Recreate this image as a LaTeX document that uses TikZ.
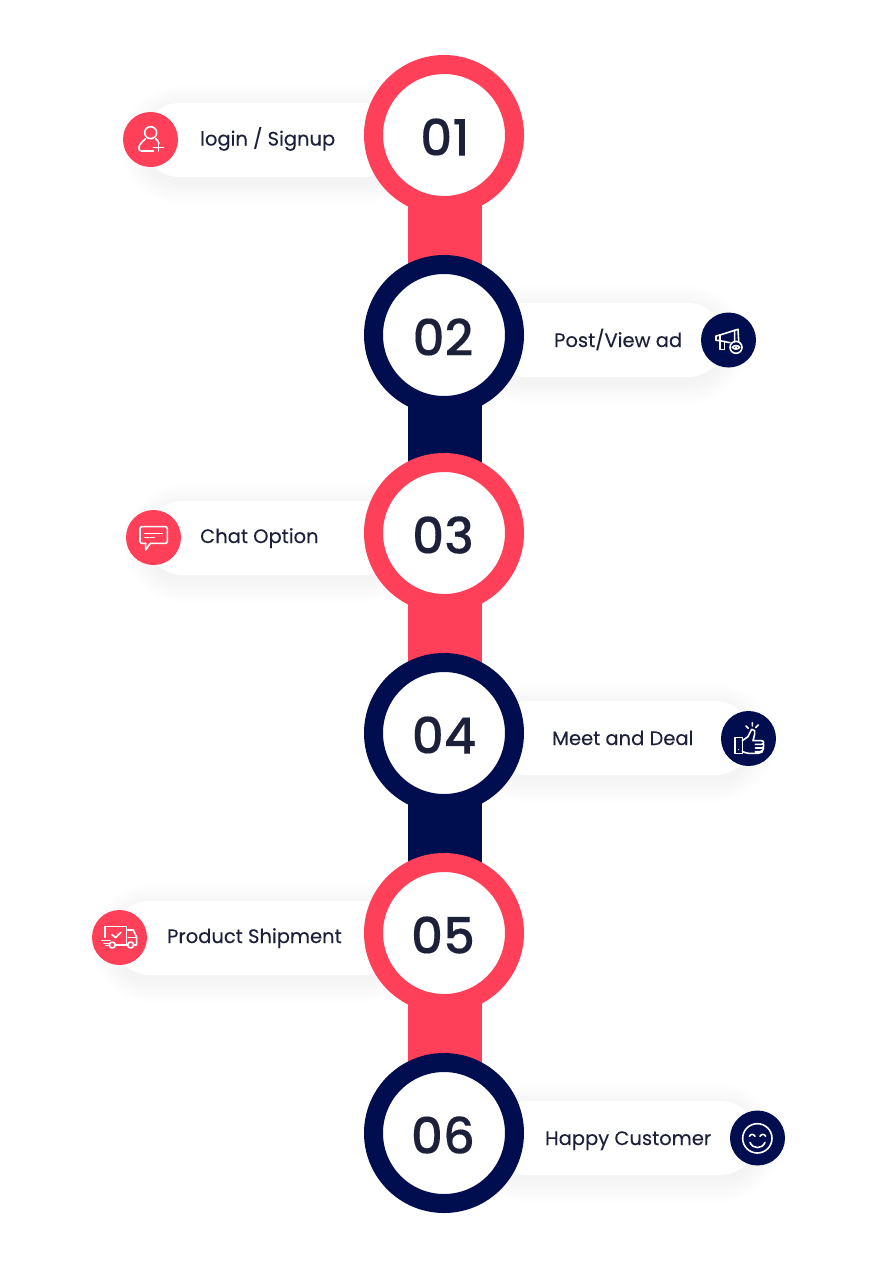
\documentclass[tikz,border=0pt]{standalone}
\usepackage{fontspec}
\setmainfont{Poppins}
\newfontfamily\numfont[FakeBold=0.2]{Poppins Medium}
\newfontfamily\tagfont[FakeBold=0.15]{Poppins}
\usetikzlibrary{backgrounds}
\definecolor{rosered}{HTML}{FF4058}
\definecolor{deepnavy}{HTML}{000E50}
\definecolor{inkdark}{HTML}{1C2039}
\tikzset{
    ring/.style={circle,draw=#1,fill=white,line width=19pt,minimum size=141pt,inner sep=0pt},
    stepnum/.style={inner sep=0pt,font=\numfont\fontsize{50}{50}\selectfont,text=inkdark},
    bar/.style={draw=#1,line width=74pt},
    tag/.style={anchor=base west,inner sep=0pt,font=\tagfont\fontsize{19.5}{24}\selectfont,text=inkdark},
    badge/.style={circle,fill=#1,minimum size=55pt,inner sep=0pt},
    glyph/.style={draw=white,line width=1.6pt,line join=round,line cap=round}
}
\newcommand{\pillbox}[3]{%
    \foreach \g in {22,20,...,2}
        \fill[black,opacity=.004,rounded corners={(37+\g)*1pt}] (#1-\g,#3-\g+5)rectangle(#2+\g,#3+74+\g+5);
    \fill[white,rounded corners=37pt] (#1,#3)rectangle(#2,#3+74);
}
\begin{document}
\begin{tikzpicture}[x=1pt,y=-1pt]
    \useasboundingbox (0,0) rectangle (872,1272);

    \node[ring=rosered] (step1) at (444,135) {};
    \node[ring=deepnavy] (step2) at (444,335) {};
    \node[ring=rosered] (step3) at (444,533) {};
    \node[ring=deepnavy] (step4) at (444,733) {};
    \node[ring=rosered] (step5) at (444,933) {};
    \node[ring=deepnavy] (step6) at (444,1133) {};

    \begin{scope}[on background layer]
        \draw[bar=rosered] ([xshift=1pt]step1.center)--([xshift=1pt]step2.center);
        \draw[bar=deepnavy] ([xshift=1pt]step2.center)--([xshift=1pt]step3.center);
        \draw[bar=rosered] ([xshift=1pt]step3.center)--([xshift=1pt]step4.center);
        \draw[bar=deepnavy] ([xshift=1pt]step4.center)--([xshift=1pt]step5.center);
        \draw[bar=rosered] ([xshift=1pt]step5.center)--([xshift=1pt]step6.center);
        \pillbox{143}{400}{103}
        \pillbox{490}{725}{303}
        \pillbox{146}{400}{501}
        \pillbox{490}{752}{701}
        \pillbox{113}{400}{901}
        \pillbox{490}{757}{1101}
    \end{scope}

    \node[stepnum] (num1) at (445,137) {01};
    \node[stepnum] (num2) at (443,337) {02};
    \node[stepnum] (num3) at (443,535) {03};
    \node[stepnum] (num4) at (444,735) {04};
    \node[stepnum] (num5) at (443,935) {05};
    \node[stepnum] (num6) at (443,1135) {06};

    \node[tag] (label1) at (200,145.5) {login / Signup};
    \node[tag] (label2) at (554,347) {Post/View ad};
    \node[tag] (label3) at (200,543) {Chat Option};
    \node[tag] (label4) at (552,745) {Meet and Deal};
    \node[tag] (label5) at (167,943) {Product Shipment};
    \node[tag] (label6) at (545,1145) {Happy Customer};

    \node[badge=rosered] (badge1) at (150.5,139.5) {};
    \node[badge=deepnavy] (badge2) at (728.5,340) {};
    \node[badge=rosered] (badge3) at (153.5,537.5) {};
    \node[badge=deepnavy] (badge4) at (748.5,738.5) {};
    \node[badge=rosered] (badge5) at (119.5,937.5) {};
    \node[badge=deepnavy] (badge6) at (757.5,1138) {};

    % person with plus
    \begin{scope}[shift={(115,100)},x=.3333pt,y=-.3333pt,glyph]
        \draw (107,98) circle (18);
        \draw (116,153)--(80,153)..controls (70,153) and (70,142) .. (73,137)..controls (77,128) and (84,123) .. (92,116);
        \draw (122,116)..controls (126,119) and (130,124) .. (132,130);
        \draw (130,133)--(130,153) (115,143)--(146,143);
    \end{scope}

    % megaphone with eye
    \begin{scope}[shift={(690,300)},x=.3333pt,y=-.3333pt,glyph]
        \draw (90,105)--(134,91)--(134,126);
        \draw (134,91)--(144,88)--(146,124);
        \draw (90,105)--(78,108)--(78,121)--(90,122)--(120,128);
        \draw (90,105)--(90,148)--(103,148)--(103,124);
        \draw (138,142) circle (18);
        \draw (127,142)..controls (133,135) and (143,135) .. (149,142)..controls (143,149) and (133,149) .. (127,142);
        \fill[white] (138,142) circle (3.5);
    \end{scope}

    % chat bubble
    \begin{scope}[shift={(115,500)},x=.3333pt,y=-.3333pt,glyph]
        \draw[rounded corners=2pt] (92,130)--(75,130)--(75,80)--(157,80)--(157,130)--(106,130);
        \draw (92,130)--(92,150)--(106,130);
        \draw (90,100)--(142,100) (90,113)--(118,113);
    \end{scope}

    % thumbs up
    \begin{scope}[shift={(710,700)},x=.3333pt,y=-.3333pt,glyph]
        \draw (75,112)--(97,112)--(97,160)--(75,160)--cycle;
        \draw (97,122)--(114,110)--(125,88)--(134,92)--(134,103)--(129,122)--(155,122);
        \draw[rounded corners=2pt] (155,122)--(161,122)--(161,133)--(136,133) (161,133)--(161,144)--(136,144) (161,144)--(157,155)--(136,155) (157,155)--(150,160)--(110,160)--(97,154);
        \fill[white] (86,149) circle (1.8);
        \draw (127,68)--(127,78) (108,78)--(115,85) (145,75)--(137,83);
    \end{scope}

    % delivery truck
    \begin{scope}[shift={(80,900)},x=.3333pt,y=-.3333pt,glyph]
        \draw (75,112)--(75,80)--(140,80)--(140,135);
        \draw (96,104)--(107,113)--(123,97);
        \draw (143,90)--(160,90)--(170,112)--(170,135)--(163,135);
        \draw (145,112)--(170,112);
        \draw (97,135) circle (9) (152,135) circle (9);
        \draw (106,135)--(143,135);
        \draw (66,122)--(90,122) (72,130)--(87,130) (78,137)--(87,137);
    \end{scope}

    % smiling face
    \begin{scope}[shift={(720,1100)},x=.3333pt,y=-.3333pt,glyph]
        \draw (112,115) circle (44);
        \draw (88,109)..controls (92,101) and (101,101) .. (105,109);
        \draw (120,109)..controls (124,101) and (133,101) .. (137,109);
        \draw (90,127)..controls (98,148) and (127,148) .. (135,127);
    \end{scope}
\end{tikzpicture}
\end{document}
